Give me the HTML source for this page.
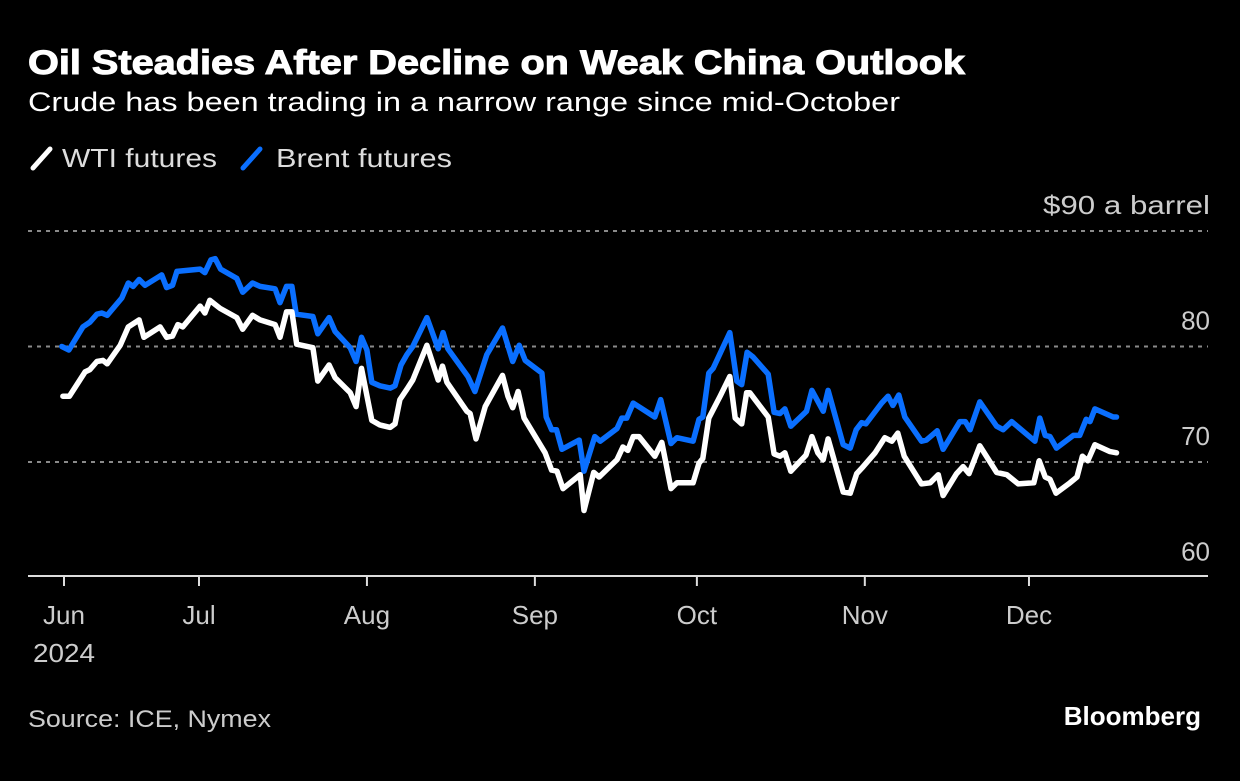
<!DOCTYPE html>
<html><head><meta charset="utf-8"><style>
body{margin:0;background:#000;width:1240px;height:776px;overflow:hidden;font-family:"Liberation Sans",sans-serif}
svg text{font-family:"Liberation Sans",sans-serif}
</style></head><body>
<svg id="chart" width="1240" height="776" viewBox="0 0 1240 776" xmlns="http://www.w3.org/2000/svg">
<rect width="1240" height="776" fill="#000"/>
<text x="28" y="74" fill="#fff" font-size="34" font-weight="bold" textLength="937" lengthAdjust="spacingAndGlyphs" stroke="#fff" stroke-width="1">Oil Steadies After Decline on Weak China Outlook</text>
<text x="28" y="111" fill="#fff" font-size="27" textLength="872" lengthAdjust="spacingAndGlyphs">Crude has been trading in a narrow range since mid-October</text>
<g>
<line x1="33" y1="168" x2="50" y2="149" stroke="#fff" stroke-width="5" stroke-linecap="round"/>
<text x="62" y="167" fill="#ddd" font-size="26" textLength="155" lengthAdjust="spacingAndGlyphs">WTI futures</text>
<line x1="243" y1="168" x2="260" y2="149" stroke="#0a6fff" stroke-width="5" stroke-linecap="round"/>
<text x="276" y="167" fill="#ddd" font-size="26" textLength="176" lengthAdjust="spacingAndGlyphs">Brent futures</text>
</g>
<g id="grid"></g><g id="xaxis"></g><g id="series"></g>
<text x="28" y="727" fill="#ccc" font-size="24" textLength="243" lengthAdjust="spacingAndGlyphs">Source: ICE, Nymex</text>
<text x="1201" y="725" fill="#fff" font-size="26" font-weight="bold" text-anchor="end">Bloomberg</text>
</svg>
<script>
const tickDays=[0,25,56.1,87.2,117.2,148.3,178.7];
const tickLabels=["Jun","Jul","Aug","Sep","Oct","Nov","Dec"];
const yTicks=[60,70,80,90];
const yTickLabels=["60","70","80","$90 a barrel"];
const wtiDays=[-0.2,1.0,3.9,4.8,6.1,7.2,8.0,10.4,11.9,13.9,14.8,17.8,19.0,20.1,21.1,22.0,25.2,26.1,27.0,28.9,32.0,33.1,34.9,36.3,39.1,40.0,41.2,42.2,43.1,46.1,47.0,49.1,50.2,53.0,54.1,55.1,57.0,58.5,60.4,61.3,62.2,63.5,64.6,67.2,69.3,70.1,70.9,74.6,75.2,76.3,78.0,81.2,82.2,83.1,84.1,85.2,89.1,90.3,91.3,92.4,95.6,96.3,98.1,99.1,102.4,103.5,104.4,105.4,106.5,109.4,110.7,112.4,113.5,116.5,117.6,118.3,119.4,121.5,123.3,124.3,125.5,126.4,127.0,130.4,131.5,132.6,133.5,134.6,137.4,138.5,139.6,140.6,141.5,144.3,145.6,146.8,148.0,150.2,152.0,153.3,154.4,155.6,158.8,160.4,161.9,162.8,165.3,166.5,167.6,169.6,172.7,174.6,176.7,179.6,180.6,181.7,182.6,183.7,186.3,187.6,188.6,189.6,190.9,193.7,194.9];
const wtiPrices=[75.7,75.7,77.8,78.0,78.7,78.8,78.5,80.1,81.7,82.3,80.8,81.7,80.8,80.9,81.9,81.7,83.5,82.9,84.0,83.3,82.5,81.5,82.7,82.3,81.9,80.8,83.0,83.0,80.2,79.9,77.0,78.4,77.3,76.0,74.8,78.1,73.6,73.2,73.0,73.3,75.4,76.3,77.1,80.1,77.1,78.3,76.9,74.4,74.2,72.0,74.8,77.5,75.7,74.7,76.1,73.8,70.8,69.3,69.2,67.7,68.9,65.8,69.1,68.7,70.2,71.3,71.0,72.2,72.2,70.5,71.7,67.7,68.2,68.2,69.9,70.3,73.8,75.7,77.4,73.8,73.3,76.0,76.0,73.9,70.7,70.5,70.8,69.2,70.6,72.2,70.8,70.2,72.0,67.4,67.3,69.0,69.6,70.8,72.1,71.8,72.5,70.5,68.1,68.2,68.9,67.1,69.0,69.6,69.0,71.4,69.1,68.9,68.1,68.2,70.1,68.7,68.5,67.3,68.2,68.7,70.5,70.1,71.5,70.9,70.8];
const brentDays=[-0.4,0.9,3.5,4.8,6.1,7.0,8.0,10.7,11.9,12.8,13.9,15.0,18.1,19.0,20.1,20.9,25.2,26.1,27.2,28.0,29.0,32.0,33.1,34.9,36.3,39.1,40.0,41.2,42.2,43.0,46.1,47.0,49.1,50.2,53.0,54.1,55.1,56.1,57.0,58.5,60.4,61.3,62.4,63.5,64.6,67.2,69.3,70.2,71.1,74.8,76.1,78.3,81.2,83.1,84.3,85.4,88.5,89.3,90.3,91.2,92.2,95.4,96.3,98.3,99.3,102.4,103.3,104.2,105.4,109.4,110.5,112.4,113.5,116.5,117.6,118.3,119.4,120.2,121.5,123.3,124.6,125.5,126.5,127.6,130.4,131.5,132.6,133.5,134.6,137.5,138.5,140.6,141.5,144.3,145.6,146.7,147.7,148.5,151.4,152.6,153.5,154.6,155.7,158.8,159.7,161.7,162.8,165.9,166.9,167.8,169.6,172.7,173.9,175.5,179.8,180.7,181.7,182.6,183.8,186.9,188.1,189.3,190.0,190.9,194.3,194.9];
const brentPrices=[80.0,79.7,81.7,82.1,82.8,82.9,82.7,84.2,85.5,85.2,85.8,85.3,86.2,85.1,85.3,86.5,86.7,86.4,87.5,87.6,86.7,85.9,84.7,85.5,85.2,85.0,83.8,85.2,85.2,82.8,82.6,81.1,82.5,81.3,79.9,78.7,80.8,79.7,76.9,76.6,76.4,76.6,78.4,79.3,80.0,82.5,79.8,81.2,79.8,77.4,76.1,79.3,81.6,78.7,80.1,78.8,77.7,73.9,72.8,72.8,71.1,71.9,69.2,72.2,71.8,72.9,73.8,73.8,75.1,73.9,75.4,71.6,72.1,71.8,73.7,73.9,77.7,78.1,79.4,81.2,77.0,76.7,79.5,79.1,77.6,74.3,74.2,74.6,73.1,74.4,76.2,74.4,76.2,71.5,71.2,72.8,73.4,73.3,75.1,75.7,74.9,75.8,73.9,71.8,71.9,72.7,71.1,73.5,73.5,72.8,75.2,73.1,72.8,73.5,71.8,73.8,72.3,72.2,71.2,72.3,72.3,73.7,73.5,74.6,73.9,73.9];

const NS="http://www.w3.org/2000/svg";
const xS=d=>64+d*5.4;
const yS=p=>462-(p-70)*11.55;
function mk(tag,attrs,parent){const e=document.createElementNS(NS,tag);for(const k in attrs)e.setAttribute(k,attrs[k]);parent.appendChild(e);return e;}
const grid=document.getElementById('grid'),xa=document.getElementById('xaxis'),ser=document.getElementById('series');
yTicks.forEach((v,i)=>{
  const y=yS(v);
  if(v>60){const g=mk('line',{x1:28,x2:1208,y1:y,y2:y,stroke:'#8a8a8a','stroke-width':2,'stroke-dasharray':'4 5'},grid);
  
  }
  const attrs={x:1210,y:y-17,fill:'#ccc','font-size':26,'text-anchor':'end'};
  if(v===90){attrs.textLength=167;attrs.lengthAdjust='spacingAndGlyphs';}
  const t=mk('text',attrs,grid);
  t.textContent=yTickLabels[i];
  
  
});
const base=mk('line',{x1:28,x2:1208,y1:576,y2:576,stroke:'#ddd','stroke-width':2},xa);


tickDays.forEach((d,i)=>{
  const x=xS(d);
  const tk=mk('line',{x1:x,x2:x,y1:576,y2:586,stroke:'#ddd','stroke-width':2},xa);
  
  
  const t=mk('text',{x:x,y:624,fill:'#ccc','font-size':26,'text-anchor':'middle'},xa);
  t.textContent=tickLabels[i];
  
  
});
const yr=mk('text',{x:64,y:662,fill:'#ccc','font-size':26,'text-anchor':'middle',textLength:62,lengthAdjust:'spacingAndGlyphs'},xa);
yr.textContent='2024';


function line(days,prices,color,name){
  const pts=days.map((d,i)=>xS(d).toFixed(1)+','+yS(prices[i]).toFixed(1)).join(' ');
  const p=mk('polyline',{points:pts,fill:'none',stroke:color,'stroke-width':5.5,'stroke-linejoin':'round','stroke-linecap':'round'},ser);
  
  
}
line(brentDays,brentPrices,'#0a6fff','brent-line');
line(wtiDays,wtiPrices,'#ffffff','wti-line');
</script>
</body></html>
